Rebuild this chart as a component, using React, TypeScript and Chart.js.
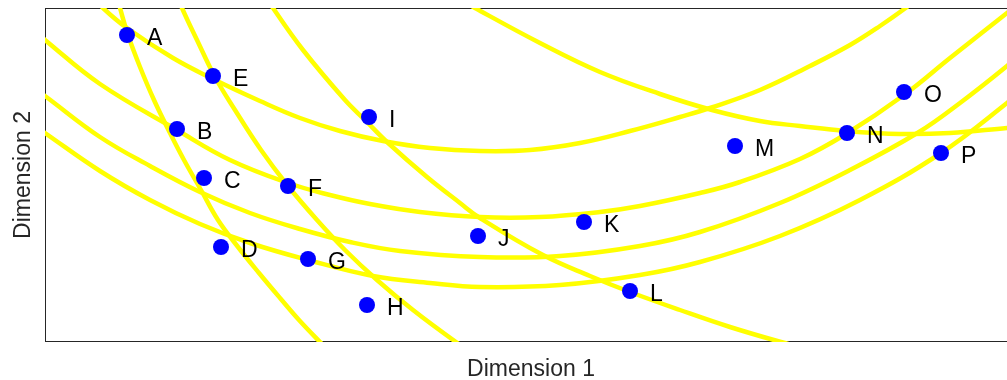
import React, { useEffect, useRef } from "react";
import { Chart, registerables } from "chart.js";

Chart.register(...registerables);

// ---- data (units: Dimension 1 / Dimension 2) ----
const pointLabels = ["A", "B", "C", "D", "E", "F", "G", "H", "I", "J", "K", "L", "M", "N", "O", "P"];
const pointX = [0.82, 1.32, 1.59, 1.76, 1.68, 2.43, 2.63, 3.22, 3.24, 4.33, 5.39, 5.85, 6.9, 8.02, 8.59, 8.96];
const pointY = [3.07, 2.13, 1.64, 0.95, 2.66, 1.56, 0.83, 0.37, 2.25, 1.06, 1.2, 0.51, 1.96, 2.09, 2.5, 1.89];

// wide arcs (opening upwards)
const arc1X = [0.5, 0.58, 0.82, 1.28, 1.68, 2.15, 2.55, 2.95, 3.38, 3.85, 4.35, 4.85, 5.35, 5.85, 6.35, 6.65, 7.15, 7.65, 8.05, 8.35, 8.62, 8.73];
const arc1Y = [3.44, 3.34, 3.14, 2.84, 2.63, 2.41, 2.24, 2.11, 2.01, 1.94, 1.91, 1.92, 1.99, 2.11, 2.25, 2.34, 2.52, 2.76, 2.97, 3.16, 3.35, 3.44];

const arc2X = [-0.1, 0.0, 0.55, 1.32, 1.85, 2.43, 2.85, 3.25, 3.75, 4.35, 4.95, 5.55, 5.95, 6.55, 6.95, 7.55, 8.01, 8.59, 9.05, 9.62, 9.75];
const arc2Y = [3.11, 3.02, 2.58, 2.12, 1.82, 1.59, 1.47, 1.38, 1.3, 1.25, 1.25, 1.3, 1.36, 1.49, 1.6, 1.83, 2.08, 2.47, 2.84, 3.29, 3.39];

const arc3X = [-0.1, 0.0, 0.55, 1.05, 1.55, 2.05, 2.55, 3.05, 3.55, 4.35, 5.15, 5.95, 6.55, 7.35, 8.05, 8.74, 9.15, 9.62, 9.75];
const arc3Y = [2.53, 2.46, 2.05, 1.76, 1.5, 1.29, 1.13, 1.0, 0.91, 0.85, 0.86, 0.96, 1.1, 1.39, 1.72, 2.1, 2.39, 2.76, 2.88];

const arc4X = [-0.1, 0.0, 0.55, 1.05, 1.55, 2.05, 2.63, 3.28, 3.85, 4.35, 5.15, 5.95, 6.55, 7.35, 8.15, 8.96, 9.62, 9.75];
const arc4Y = [2.16, 2.09, 1.71, 1.42, 1.18, 0.99, 0.82, 0.66, 0.59, 0.55, 0.57, 0.67, 0.8, 1.06, 1.42, 1.89, 2.39, 2.51];

const arc5X = [4.13, 4.3, 4.95, 5.55, 6.15, 6.67, 7.15, 7.55, 8.01, 8.55, 9.05, 9.62, 9.75];
const arc5Y = [3.44, 3.34, 2.99, 2.7, 2.48, 2.32, 2.21, 2.16, 2.11, 2.08, 2.09, 2.14, 2.15];

// steep arcs (falling to the right)
const steep1X = [0.7, 0.75, 0.83, 0.95, 1.09, 1.25, 1.39, 1.56, 1.73, 1.93, 2.14, 2.35, 2.54, 2.75, 2.88];
const steep1Y = [3.52, 3.34, 3.07, 2.75, 2.42, 2.09, 1.82, 1.52, 1.22, 0.95, 0.69, 0.44, 0.22, 0.0, -0.13];

const steep2X = [1.3, 1.37, 1.52, 1.7, 1.9, 2.16, 2.43, 2.72, 3.0, 3.32, 3.68, 4.11, 4.31];
const steep2Y = [3.52, 3.34, 3.02, 2.65, 2.32, 1.92, 1.56, 1.22, 0.92, 0.62, 0.32, 0.0, -0.13];

const steep3X = [2.17, 2.28, 2.58, 3.0, 3.2, 3.42, 3.82, 4.15, 4.35, 4.98, 5.45, 5.85, 6.35, 6.85, 7.36, 7.75];
const steep3Y = [3.52, 3.34, 2.92, 2.42, 2.22, 2.0, 1.65, 1.39, 1.24, 0.87, 0.66, 0.5, 0.32, 0.15, 0.0, -0.1];

const axisXMin = 0;
const axisXMax = 9.72;
const axisYMin = 0;
const axisYMax = 3.34;

const FONT = "'Liberation Sans', Arial, Helvetica, sans-serif";

const zip = (xs: number[], ys: number[]) => xs.map((x, i) => ({ x, y: ys[i] }));

const curves = [
  [arc1X, arc1Y],
  [arc2X, arc2Y],
  [arc3X, arc3Y],
  [arc4X, arc4Y],
  [arc5X, arc5Y],
  [steep1X, steep1Y],
  [steep2X, steep2Y],
  [steep3X, steep3Y],
];

const framePlugin = {
  id: "frame",
  beforeDatasetsDraw(chart: any) {
    const { ctx, chartArea } = chart;
    ctx.save();
    ctx.strokeStyle = "#262626";
    ctx.lineWidth = 1;
    ctx.strokeRect(
      Math.round(chartArea.left) + 0.5,
      Math.round(chartArea.top) + 0.5,
      Math.round(chartArea.right - chartArea.left),
      Math.round(chartArea.bottom - chartArea.top) - 1
    );
    ctx.restore();
  },
};

const labelPlugin = {
  id: "pointLabels",
  afterDatasetsDraw(chart: any) {
    const { ctx } = chart;
    const meta = chart.getDatasetMeta(0);
    ctx.save();
    ctx.fillStyle = "#000000";
    ctx.font = `23px ${FONT}`;
    ctx.textAlign = "left";
    ctx.textBaseline = "alphabetic";
    meta.data.forEach((el: any, i: number) => {
      ctx.fillText(pointLabels[i], el.x + 20, el.y + 10);
    });
    ctx.restore();
  },
};

export default function App() {
  const ref = useRef<HTMLCanvasElement>(null);

  useEffect(() => {
    const datasets: any[] = [
      {
        label: "points",
        data: zip(pointX, pointY),
        showLine: false,
        pointRadius: 8,
        pointBorderWidth: 0,
        pointBackgroundColor: "#0000ff",
        pointBorderColor: "#0000ff",
        order: 0,
      },
      ...curves.map(([xs, ys], i) => ({
        label: `curve${i + 1}`,
        data: zip(xs, ys),
        showLine: true,
        pointRadius: 0,
        borderColor: "#ffff00",
        borderWidth: 4.5,
        tension: 0.4,
        fill: false,
        order: 1,
      })),
    ];

    const chart = new Chart(ref.current!, {
      type: "scatter",
      data: { datasets },
      options: {
        animation: false,
        responsive: true,
        maintainAspectRatio: false,
        events: [],
        layout: { autoPadding: false, padding: { top: 8, right: 3, left: 0, bottom: 0 } },
        plugins: { legend: { display: false }, tooltip: { enabled: false } },
        scales: {
          x: {
            type: "linear",
            min: axisXMin,
            max: axisXMax,
            grid: { display: false, drawTicks: false },
            border: { display: false },
            ticks: { display: false },
            title: {
              display: true,
              text: "Dimension 1",
              color: "#262626",
              font: { family: FONT, size: 23, lineHeight: 0.9 },
              padding: { top: 17.3, bottom: 0 },
            },
          },
          y: {
            type: "linear",
            min: axisYMin,
            max: axisYMax,
            grid: { display: false, drawTicks: false },
            border: { display: false },
            ticks: { display: false },
            title: {
              display: true,
              text: "Dimension 2",
              color: "#262626",
              font: { family: FONT, size: 23, lineHeight: 0.9 },
              padding: { top: 13.65, bottom: 10.65 },
            },
          },
        },
      },
      plugins: [framePlugin, labelPlugin],
    });
    return () => chart.destroy();
  }, []);

  return (
    <div style={{ position: "absolute", left: 0, top: 0, width: 1007, height: 380, overflow: "hidden", background: "#fff" }}>
      <div style={{ position: "relative", width: 1020, height: 380 }}>
        <canvas ref={ref} />
      </div>
    </div>
  );
}
